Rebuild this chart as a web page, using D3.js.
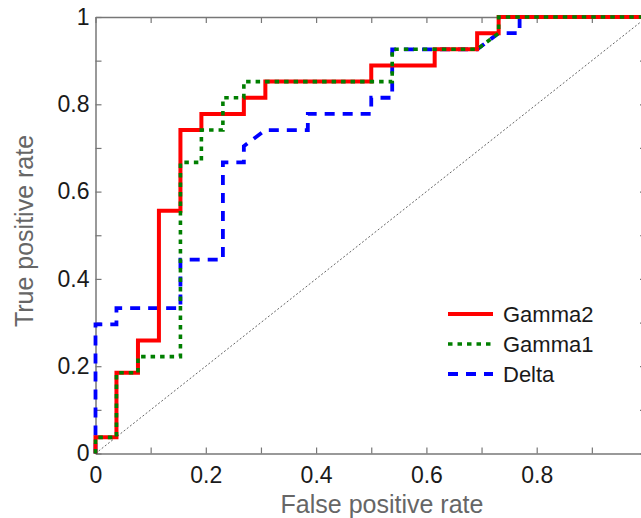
<!DOCTYPE html>
<html>
<head>
<meta charset="utf-8">
<script src="https://cdn.jsdelivr.net/npm/d3@7"></script>
<style>
    body { margin: 0; background: #fff; overflow: hidden; }
    text { font-family: "Liberation Sans", Arial, sans-serif; }
</style>
</head>
<body>
<svg id="chart" width="641" height="518"></svg>
<script>
// ROC curves (steps of 1/26 on x, 1/27 on y)
var gamma2Fpr = [0, 0, 0.038, 0.038, 0.077, 0.077, 0.115, 0.115, 0.154, 0.154, 0.192, 0.192, 0.269, 0.269, 0.308, 0.308, 0.5, 0.5, 0.615, 0.615, 0.692, 0.692, 0.731, 0.731, 1];
var gamma2Tpr = [0, 0.037, 0.037, 0.185, 0.185, 0.259, 0.259, 0.556, 0.556, 0.741, 0.741, 0.778, 0.778, 0.815, 0.815, 0.852, 0.852, 0.889, 0.889, 0.926, 0.926, 0.963, 0.963, 1, 1];

var gamma1Fpr = [0, 0, 0.038, 0.038, 0.077, 0.077, 0.154, 0.154, 0.192, 0.192, 0.231, 0.231, 0.269, 0.269, 0.538, 0.538, 0.692, 0.731, 0.731, 1];
var gamma1Tpr = [0, 0.037, 0.037, 0.185, 0.185, 0.222, 0.222, 0.667, 0.667, 0.741, 0.741, 0.815, 0.815, 0.852, 0.852, 0.926, 0.926, 0.963, 1, 1];

var deltaFpr = [0, 0, 0.038, 0.038, 0.154, 0.154, 0.231, 0.231, 0.269, 0.269, 0.308, 0.385, 0.385, 0.5, 0.5, 0.538, 0.538, 0.692, 0.731, 0.769, 0.769, 1];
var deltaTpr = [0, 0.296, 0.296, 0.333, 0.333, 0.444, 0.444, 0.667, 0.667, 0.704, 0.741, 0.741, 0.778, 0.778, 0.815, 0.815, 0.926, 0.926, 0.963, 0.963, 1, 1];

var seriesNames = ['Gamma2', 'Gamma1', 'Delta'];
var xLabelTicks = [0, 0.2, 0.4, 0.6, 0.8];   // the "1" falls off the right edge
var yLabelTicks = [0, 0.2, 0.4, 0.6, 0.8, 1];
var allTicks = [0, 0.1, 0.2, 0.3, 0.4, 0.5, 0.6, 0.7, 0.8, 0.9, 1];

var svg = d3.select('#chart');

var x = d3.scaleLinear().domain([0, 1]).range([95.5, 647]);
var y = d3.scaleLinear().domain([0, 1]).range([453.5, 17]);

var axisColor = '#777';

function fmtFor(labels) {
    return function(d) {
        return labels.indexOf(d) >= 0 ? d3.format('~g')(d) : '';
    };
}

// box axes, ticks pointing inward
var gx = svg.append('g')
    .attr('transform', 'translate(0,' + y(0) + ')')
    .call(d3.axisBottom(x).tickValues(allTicks).tickSize(-6).tickSizeOuter(0).tickPadding(13).tickFormat(fmtFor(xLabelTicks)));
var gxTop = svg.append('g')
    .attr('transform', 'translate(0,' + y(1) + ')')
    .call(d3.axisTop(x).tickValues(allTicks).tickSize(-6).tickSizeOuter(0).tickFormat(''));
var gy = svg.append('g')
    .attr('transform', 'translate(' + x(0) + ',0)')
    .call(d3.axisLeft(y).tickValues(allTicks).tickSize(-6).tickSizeOuter(0).tickPadding(6).tickFormat(fmtFor(yLabelTicks)));
var gyRight = svg.append('g')
    .attr('transform', 'translate(' + x(1) + ',0)')
    .call(d3.axisRight(y).tickValues(allTicks).tickSize(-7).tickSizeOuter(0).tickFormat(''));

[gx, gxTop, gy, gyRight].forEach(function(g) {
    g.select('.domain').attr('stroke', axisColor).attr('stroke-width', 1.5);
    g.selectAll('.tick line').attr('stroke', axisColor).attr('stroke-width', 1.2);
    g.selectAll('.tick text')
        .attr('fill', '#1a1a1a')
        .style('font-size', '23px')
        .style('font-family', '"Liberation Sans", Arial, sans-serif');
});
// drop empty tick texts so nothing sits at the clipped edge
svg.selectAll('.tick text').filter(function() { return this.textContent === ''; }).remove();

// chance line
svg.append('line')
    .attr('x1', x(0)).attr('y1', y(0))
    .attr('x2', x(1)).attr('y2', y(1))
    .attr('stroke', '#666')
    .attr('stroke-width', 1)
    .attr('stroke-dasharray', '2,2');

var line = d3.line()
    .x(function(d) { return x(d[0]); })
    .y(function(d) { return y(d[1]); });

function pairs(fx, fy) {
    return fx.map(function(v, i) { return [v, fy[i]]; });
}

var styles = {
    'Gamma2': { color: '#ff0000', width: 4, dash: null },
    'Gamma1': { color: '#007f00', width: 3.6, dash: '4.5,5' },
    'Delta': { color: '#0000ff', width: 3.8, dash: '10,8' }
};

var data = {
    'Gamma2': pairs(gamma2Fpr, gamma2Tpr),
    'Gamma1': pairs(gamma1Fpr, gamma1Tpr),
    'Delta': pairs(deltaFpr, deltaTpr)
};

// delta underneath, then gamma2, gamma1 on top
['Delta', 'Gamma2', 'Gamma1'].forEach(function(name) {
    var s = styles[name];
    svg.append('path')
        .datum(data[name])
        .attr('d', line)
        .attr('fill', 'none')
        .attr('stroke', s.color)
        .attr('stroke-width', s.width)
        .attr('stroke-dasharray', s.dash)
        .attr('stroke-linejoin', 'miter');
});

// legend
var legend = svg.append('g').attr('transform', 'translate(448,314)');
seriesNames.forEach(function(name, i) {
    var s = styles[name];
    var row = legend.append('g').attr('transform', 'translate(0,' + (i * 30) + ')');
    row.append('line')
        .attr('x1', 0).attr('x2', 45)
        .attr('y1', 0).attr('y2', 0)
        .attr('stroke', s.color)
        .attr('stroke-width', s.width)
        .attr('stroke-dasharray', s.dash);
    row.append('text')
        .attr('x', 55)
        .attr('dy', '0.35em')
        .attr('fill', '#1a1a1a')
        .style('font-size', '22px')
        .text(name);
});

// axis titles
svg.append('text')
    .attr('x', 382)
    .attr('y', 513)
    .attr('text-anchor', 'middle')
    .attr('fill', '#666')
    .style('font-size', '25px')
    .text('False positive rate');

svg.append('text')
    .attr('transform', 'translate(33,231) rotate(-90)')
    .attr('text-anchor', 'middle')
    .attr('fill', '#666')
    .style('font-size', '25px')
    .text('True positive rate');
</script>
</body>
</html>
